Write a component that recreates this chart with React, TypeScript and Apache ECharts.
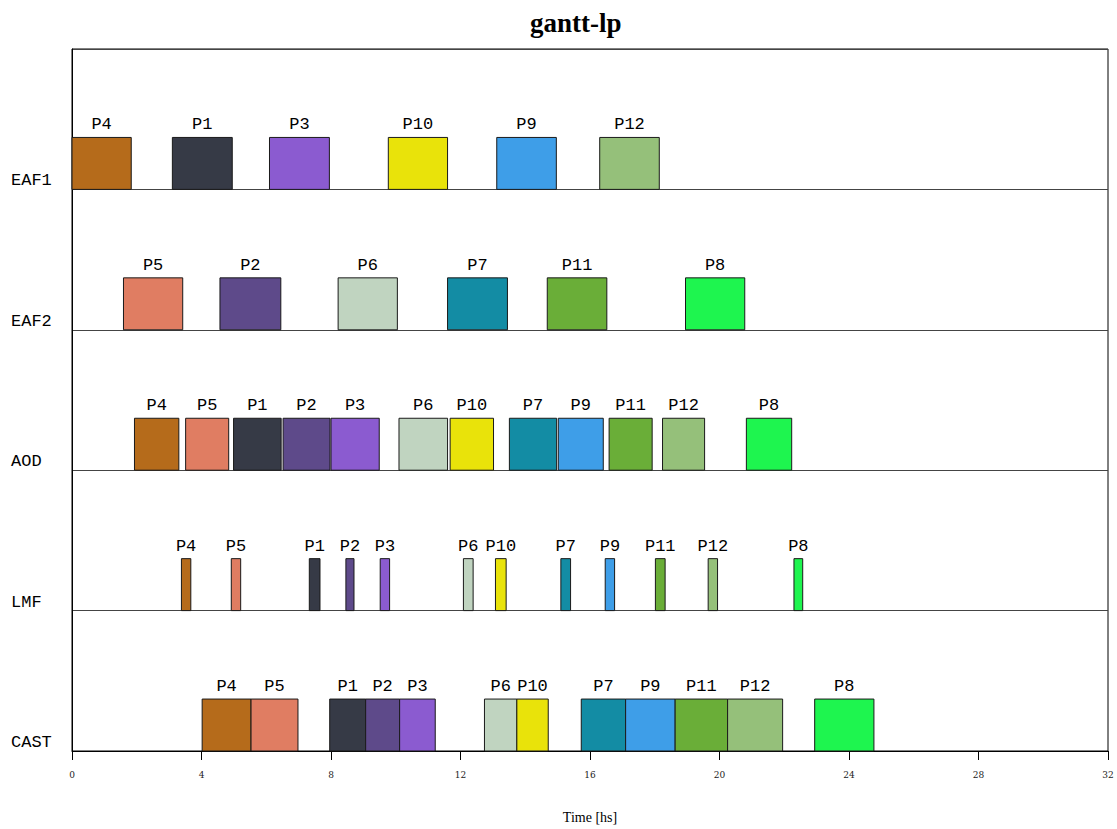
import React, { useEffect, useRef } from "react";
import * as echarts from "echarts";

// Rows from bottom (0) to top (4)
const rowNames = ["CAST", "LMF", "AOD", "EAF2", "EAF1"];

const jobNames = ["P1", "P2", "P3", "P4", "P5", "P6", "P7", "P8", "P9", "P10", "P11", "P12"];
const jobColors = [
  "#363a46", "#5e4a8a", "#8b5bd0", "#b56b1b", "#e07d62", "#c0d4c0",
  "#138ca4", "#1ef54f", "#3e9ee8", "#e9e30a", "#6aae38", "#95c07a",
];

// [job, start, end] in hours
const eaf1Tasks: [string, number, number][] = [
  ["P4", 0, 1.83], ["P1", 3.1, 4.95], ["P3", 6.1, 7.95],
  ["P10", 9.77, 11.6], ["P9", 13.12, 14.96], ["P12", 16.3, 18.14],
];
const eaf2Tasks: [string, number, number][] = [
  ["P5", 1.59, 3.42], ["P2", 4.57, 6.45], ["P6", 8.22, 10.05],
  ["P7", 11.6, 13.45], ["P11", 14.68, 16.52], ["P8", 18.95, 20.78],
];
const aodTasks: [string, number, number][] = [
  ["P4", 1.93, 3.3], ["P5", 3.51, 4.84], ["P1", 4.99, 6.46], ["P2", 6.52, 7.97],
  ["P3", 8.0, 9.49], ["P6", 10.1, 11.6], ["P10", 11.68, 13.02], ["P7", 13.51, 14.97],
  ["P9", 15.02, 16.41], ["P11", 16.59, 17.92], ["P12", 18.24, 19.54], ["P8", 20.83, 22.23],
];
const lmfTasks: [string, number, number][] = [
  ["P4", 3.38, 3.67], ["P5", 4.92, 5.21], ["P1", 7.33, 7.66], ["P2", 8.46, 8.71],
  ["P3", 9.52, 9.81], ["P6", 12.09, 12.39], ["P10", 13.08, 13.41], ["P7", 15.1, 15.4],
  ["P9", 16.47, 16.76], ["P11", 18.02, 18.32], ["P12", 19.65, 19.94], ["P8", 22.3, 22.57],
];
const castTasks: [string, number, number][] = [
  ["P4", 4.02, 5.53], ["P5", 5.53, 6.98], ["P1", 7.96, 9.07], ["P2", 9.07, 10.12],
  ["P3", 10.12, 11.22], ["P6", 12.74, 13.74], ["P10", 13.74, 14.71], ["P7", 15.73, 17.1],
  ["P9", 17.1, 18.63], ["P11", 18.63, 20.25], ["P12", 20.25, 21.95], ["P8", 22.94, 24.77],
];

const tasksByRow = [castTasks, lmfTasks, aodTasks, eaf2Tasks, eaf1Tasks];

const xTicks = [0, 4, 8, 12, 16, 20, 24, 28, 32];
const BAR_HEIGHT = 0.37; // in row units

const MONO = "'Liberation Mono', 'Courier New', monospace";

export default function App() {
  const ref = useRef<HTMLDivElement>(null);

  useEffect(() => {
    if (!ref.current) return;
    const chart = echarts.init(ref.current, null, { renderer: "svg" });

    const data: any[] = [];
    tasksByRow.forEach((tasks, row) => {
      tasks.forEach(([job, s, e]) => {
        data.push({ value: [s, e, row], name: job });
      });
    });

    chart.setOption({
      animation: false,
      backgroundColor: "#ffffff",
      title: {
        text: "gantt-lp",
        left: 525,
        top: 4,
        textStyle: {
          fontFamily: "'Liberation Serif', serif",
          fontWeight: "bold",
          fontSize: 27,
          color: "#000",
        },
      },
      grid: {
        left: 72,
        right: 9,
        top: 49,
        bottom: 71,
        show: true,
        borderColor: "#000",
        borderWidth: 1,
        backgroundColor: "transparent",
      },
      xAxis: {
        type: "value",
        min: xTicks[0],
        max: xTicks[xTicks.length - 1],
        interval: 4,
        name: "Time [hs]",
        nameLocation: "middle",
        nameGap: 59,
        nameTextStyle: {
          fontFamily: "'Liberation Serif', serif",
          fontSize: 14,
          color: "#000",
        },
        axisLine: { show: true, lineStyle: { color: "#000", width: 1 } },
        axisTick: { show: true, length: 9, lineStyle: { color: "#000" } },
        axisLabel: {
          margin: 19,
          fontFamily: "'DejaVu Serif', serif",
          fontSize: 9,
          color: "#222",
        },
        splitLine: { show: false },
      },
      yAxis: {
        type: "value",
        min: 0,
        max: rowNames.length,
        interval: 1,
        axisLine: { show: true, lineStyle: { color: "#000" } },
        axisTick: { show: false },
        splitLine: { show: true, lineStyle: { color: "#444", width: 1 } },
        axisLabel: {
          formatter: (v: number) => rowNames[v] ?? "",
          align: "left",
          verticalAlign: "bottom",
          margin: 61,
          fontFamily: MONO,
          fontSize: 17,
          color: "#000",
        },
      },
      series: [
        {
          type: "custom",
          data,
          encode: { x: [0, 1], y: 2 },
          renderItem: (params: any, api: any) => {
            const s = api.coord([api.value(0), api.value(2)]);
            const e = api.coord([api.value(1), api.value(2)]);
            const h = api.size([0, BAR_HEIGHT])[1];
            const job = data[params.dataIndex].name;
            const color = jobColors[jobNames.indexOf(job)];
            return {
              type: "group",
              children: [
                {
                  type: "rect",
                  shape: { x: s[0], y: s[1] - h, width: e[0] - s[0], height: h },
                  style: { fill: color, stroke: "#1a1a1a", lineWidth: 1 },
                },
                {
                  type: "text",
                  style: {
                    text: job,
                    x: (s[0] + e[0]) / 2,
                    y: s[1] - h - 4,
                    textAlign: "center",
                    textVerticalAlign: "bottom",
                    font: `17px ${MONO}`,
                    fill: "#000",
                  },
                },
              ],
            };
          },
        },
      ],
    });

    return () => chart.dispose();
  }, []);

  return (
    <div
      ref={ref}
      style={{ position: "fixed", left: 0, top: 0, width: 1117, height: 829 }}
    />
  );
}
